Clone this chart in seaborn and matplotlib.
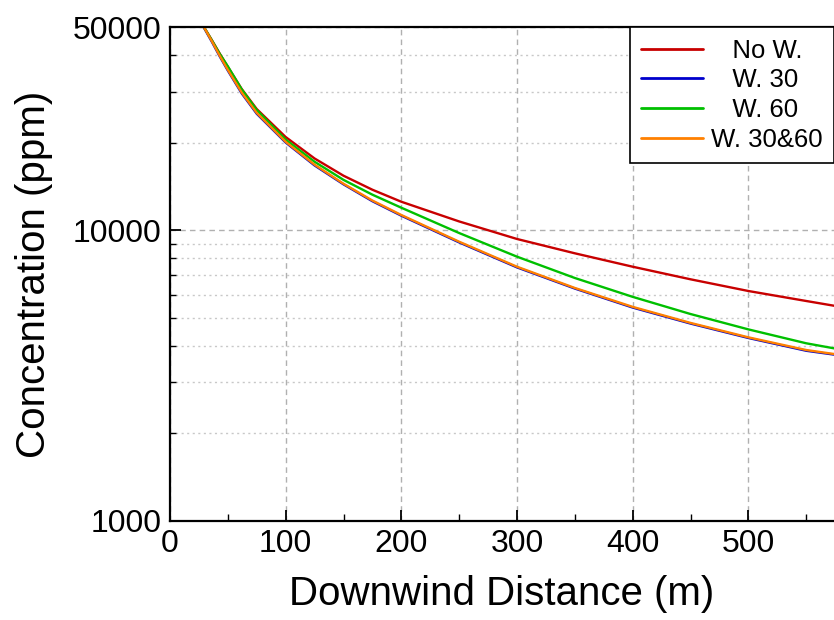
#%% Loading libraries
import numpy as np
import pandas as pd
import seaborn as sns
import matplotlib.pyplot as plt
from matplotlib.ticker import FixedLocator, LogLocator, NullFormatter

#%% Data
distance = [28, 36, 43, 50, 62, 75, 100, 125, 150, 175, 200, 250, 300, 350, 400, 450, 500, 550, 574]

no_w = [51000, 45200, 40500, 36500, 30600, 26100, 20920, 17650, 15400, 13780, 12530, 10720, 9330, 8330, 7490, 6780, 6180, 5710, 5500]
w_30 = [50800, 44600, 39600, 35400, 29550, 25150, 20030, 16700, 14380, 12580, 11220, 9080, 7450, 6300, 5420, 4775, 4260, 3850, 3735]
w_60 = [51000, 45100, 40400, 36600, 30500, 25900, 20500, 17200, 14900, 13250, 11950, 9780, 8110, 6850, 5900, 5150, 4560, 4085, 3925]
w_30_60 = [51000, 44800, 39800, 35600, 29750, 25320, 20140, 16800, 14450, 12650, 11280, 9130, 7490, 6330, 5450, 4800, 4282, 3873, 3753]

series_names = ["No W.", "W. 30", "W. 60", "W. 30&60"]
legend_labels = ["   No W.", "   W. 30", "   W. 60", "W. 30&60"]
colors = ["#C80000", "#0000CC", "#00C000", "#FF8000"]

y_ticks = [1000, 10000, 50000]
x_ticks = [0, 100, 200, 300, 400, 500]

#%% Long-form table for seaborn
frames = []
for name, vals in zip(series_names, [no_w, w_30, w_60, w_30_60]):
    frames.append(pd.DataFrame({"Distance": distance, "Conc": vals, "Case": name}))
data = pd.concat(frames, ignore_index=True)

#%% Theming
sns.set_style("ticks")
plt.rcParams['font.family'] = ['Liberation Sans', 'DejaVu Sans']
plt.rcParams['text.color'] = 'black'
plt.rcParams['axes.labelcolor'] = 'black'
plt.rcParams['xtick.color'] = 'black'
plt.rcParams['ytick.color'] = 'black'

fig = plt.figure(figsize=(8.34, 6.2), dpi=100)
ax = fig.add_axes([170 / 834, 99 / 620, 664 / 834, 494 / 620])

sns.lineplot(data=data, x="Distance", y="Conc", hue="Case",
             hue_order=series_names, palette=colors,
             linewidth=1.7, ax=ax, legend=True)

ax.set_yscale("log")
ax.set_ylim(1000, 50000)
ax.set_xlim(0, 574)

# ticks
ax.yaxis.set_major_locator(FixedLocator(y_ticks))
ax.set_yticklabels([str(t) for t in y_ticks])
ax.yaxis.set_minor_locator(LogLocator(base=10, subs=np.arange(2, 10)))
ax.yaxis.set_minor_formatter(NullFormatter())
ax.set_xticks(x_ticks)
ax.set_xticks(np.arange(50, 574, 100), minor=True)
ax.tick_params(which="major", direction="in", length=8, width=1.3,
               labelsize=23, pad=6)
ax.tick_params(which="minor", direction="in", length=4, width=1.0)
ax.tick_params(axis="x", which="minor", length=5)

# grid
ax.grid(False)
ax.xaxis.grid(True, which="major", linestyle=(0, (4, 3)), color="#b0b0b0", linewidth=1)
ax.yaxis.grid(True, which="major", linestyle=(0, (4, 3)), color="#b0b0b0", linewidth=1)
ax.yaxis.grid(True, which="minor", linestyle=(0, (1.5, 2.5)), color="#c8c8c8", linewidth=1)
ax.set_axisbelow(True)

for side in ["left", "bottom", "top"]:
    ax.spines[side].set_linewidth(1.6)
    ax.spines[side].set_color("black")
ax.spines["right"].set_visible(False)

# labels
ax.set_xlabel("Downwind Distance (m)", fontsize=29, labelpad=11)
ax.set_ylabel("Concentration (ppm)", fontsize=29, labelpad=14)

# legend
handles, _ = ax.get_legend_handles_labels()
leg = ax.legend(handles[:4], legend_labels, loc="upper right",
                bbox_to_anchor=(1.0, 1.0), borderaxespad=0,
                fontsize=18.5, frameon=True, fancybox=False,
                edgecolor="black", framealpha=1, handlelength=2.4,
                handletextpad=0.3, labelspacing=0.22, borderpad=0.45)
leg.get_frame().set_linewidth(1.2)
for line in leg.get_lines():
    line.set_linewidth(2.0)

plt.savefig("out.png", dpi=100)
